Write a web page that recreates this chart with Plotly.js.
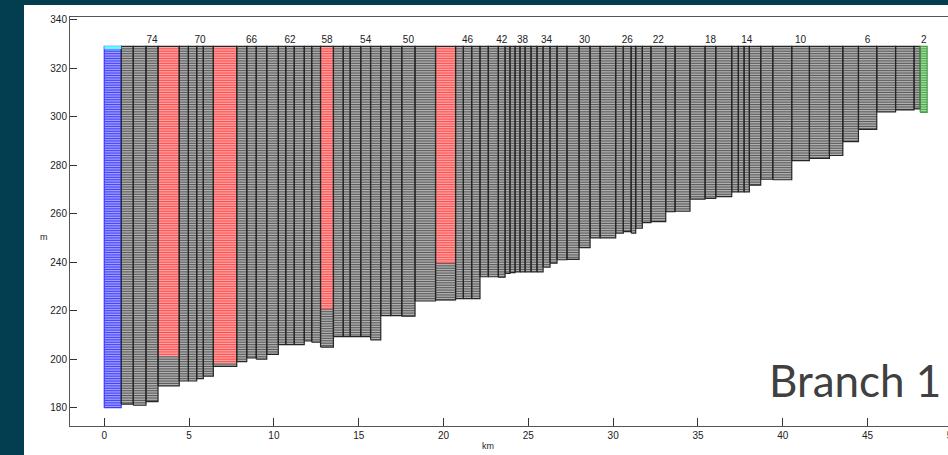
<!DOCTYPE html>
<html><head><meta charset="utf-8">
<script src="https://cdn.plot.ly/plotly-3.0.1.min.js"></script>
<style>
html,body{margin:0;padding:0;background:#033d50;overflow:hidden;width:948px;height:455px;}
#chart{position:absolute;left:24px;top:5px;width:972px;height:450px;}
</style></head><body><div id="chart"></div>
<script>
// Segment numbers, dam (left) to upstream (right)
const segments = [77,76,75,74,73,72,71,70,69,68,67,66,65,64,63,62,61,60,59,58,57,56,55,54,53,52,51,50,49,48,47,46,45,44,43,42,41,40,39,38,37,36,35,34,33,32,31,30,29,28,27,26,25,24,23,22,21,20,19,18,17,16,15,14,13,12,11,10,9,8,7,6,5,4,3,2];
// Segment boundaries, km from the dam
const segEdgesKm = [0,1.00,1.71,2.46,3.17,4.42,4.96,5.45,5.84,6.43,
  7.81,8.40,8.96,9.58,10.26,10.70,11.20,11.79,12.23,12.75,
  13.51,14.09,14.50,15.12,15.70,16.30,16.89,17.54,18.32,19.53,
  20.71,21.17,21.66,22.15,22.64,23.23,23.63,23.92,24.22,24.51,
  24.81,25.16,25.51,25.87,26.28,26.69,27.28,27.99,28.64,29.23,
  30.15,30.60,31.06,31.33,31.72,32.23,33.10,33.65,34.53,35.42,
  36.05,36.99,37.38,37.72,38.03,38.70,39.41,40.53,41.57,42.75,
  43.54,44.46,45.54,46.65,47.74,48.10,48.51];
// Bottom elevation of each segment, m
const bottomElev = [180,181.5,181,182.5,189,191,191,192,193,197,
  199,200.5,200,202,206,206,206,207.5,207,205,
  209.3,209.3,209.3,209.3,208,218,218,217.7,224,224.4,
  225,225,225,234,234,233.8,235.4,235.7,236,236,
  236,236,236,238,239.6,241,241.2,246,250,250,
  252,252.6,252,254,256.3,256.7,260.8,261,266,266.3,
  267,269,269,269,271.8,274.2,274,281.9,282.8,284,
  289.7,294.8,302,302.8,303.2,301.8];
const surfaceElev = 329;
const layerThickness = 1;
const redSegments = [73,68,58,48];
const redLowerElev = [201,198,220.6,239.5];
const blueSegment = 77;
const greenSegment = 2;
const labelSegments = [74,70,66,62,58,54,50,46,42,38,34,30,26,22,18,14,10,6,2];

const groups = {
  grey:  {fill:'#b0b0b0', line:'#5c5c5c', fx:[], fy:[], lx:[], ly:[]},
  red:   {fill:'#ffa4a4', line:'#ff4f4f', fx:[], fy:[], lx:[], ly:[]},
  blue:  {fill:'#9e9eff', line:'#4444ff', fx:[], fy:[], lx:[], ly:[]},
  green: {fill:'#a8d8a8', line:'#4ea84e', fx:[], fy:[], lx:[], ly:[]}
};
function addPart(g, x0, x1, lo, hi, includeTop){
  const G = groups[g];
  G.fx.push(x0,x1,x1,x0,x0,null); G.fy.push(lo,lo,hi,hi,lo,null);
  let k = includeTop ? 0 : 1;
  for(;;k++){
    const e = hi - k*layerThickness;
    if(e <= lo + 0.05) break;
    G.lx.push(x0,x1,null); G.ly.push(e,e,null);
  }
}
const outDark = {x:[],y:[]}, outBlue={x:[],y:[]}, outGreen={x:[],y:[]};
function rect(o,x0,x1,lo,hi){ o.x.push(x0,x1,x1,x0,x0,null); o.y.push(lo,lo,hi,hi,lo,null); }
segments.forEach((s,i)=>{
  const x0=segEdgesKm[i], x1=segEdgesKm[i+1], b=bottomElev[i];
  const r = redSegments.indexOf(s);
  if(s===blueSegment){ addPart('blue',x0,x1,b,surfaceElev,false); rect(outBlue,x0,x1,b,surfaceElev); }
  else if(s===greenSegment){ addPart('green',x0,x1,b,surfaceElev,false); rect(outGreen,x0,x1,b,surfaceElev); }
  else if(r>=0){ addPart('red',x0,x1,redLowerElev[r],surfaceElev,false); addPart('grey',x0,x1,b,redLowerElev[r],true); rect(outDark,x0,x1,b,surfaceElev); }
  else { addPart('grey',x0,x1,b,surfaceElev,false); rect(outDark,x0,x1,b,surfaceElev); }
});
const traces = [];
Object.keys(groups).forEach(k=>{
  const G=groups[k];
  traces.push({type:'scatter',mode:'lines',x:G.fx,y:G.fy,fill:'toself',fillcolor:G.fill,line:{width:0,color:G.fill},hoverinfo:'skip',showlegend:false});
});
Object.keys(groups).forEach(k=>{
  const G=groups[k];
  traces.push({type:'scatter',mode:'lines',x:G.lx,y:G.ly,line:{width:1.1,color:G.line},hoverinfo:'skip',showlegend:false});
});
traces.push({type:'scatter',mode:'lines',x:outBlue.x,y:outBlue.y,line:{width:1.2,color:'#3c3cff'},hoverinfo:'skip',showlegend:false});
traces.push({type:'scatter',mode:'lines',x:outDark.x,y:outDark.y,line:{width:1.2,color:'#262626'},hoverinfo:'skip',showlegend:false});
traces.push({type:'scatter',mode:'lines',x:outGreen.x,y:outGreen.y,line:{width:1.2,color:'#3fa03f'},hoverinfo:'skip',showlegend:false});
// cyan cap on the dam segment
const bi = segments.indexOf(blueSegment);
traces.push({type:'scatter',mode:'lines',x:[segEdgesKm[bi],segEdgesKm[bi+1]],y:[surfaceElev-0.5,surfaceElev-0.5],line:{width:3,color:'#55ffff'},hoverinfo:'skip',showlegend:false});
// segment labels
const lx=[], lt=[];
labelSegments.forEach(s=>{ const i=segments.indexOf(s); lx.push((segEdgesKm[i]+segEdgesKm[i+1])/2); lt.push(String(s)); });
traces.push({type:'scatter',mode:'text',x:lx,y:lx.map(()=>331.6),text:lt,textposition:'middle center',
  textfont:{family:'Liberation Sans, Arial, sans-serif',size:10,color:'#222'},cliponaxis:false,hoverinfo:'skip',showlegend:false});

const layout = {
  width:972, height:450,
  margin:{l:46,r:10,t:12,b:29},
  paper_bgcolor:'#ffffff', plot_bgcolor:'#ffffff',
  font:{family:'Liberation Sans, Arial, sans-serif',size:10,color:'#222'},
  xaxis:{range:[-2.02,51.98],tick0:0,dtick:5,ticks:'inside',ticklen:8,tickcolor:'#333',tickwidth:1,
    showline:true,linecolor:'#555',linewidth:1,mirror:true,showgrid:false,zeroline:false,
    tickfont:{size:10,color:'#222'}},
  yaxis:{range:[172.45,341.11],tick0:180,dtick:20,ticks:'inside',ticklen:7,tickcolor:'#333',tickwidth:1,
    showline:true,linecolor:'#555',linewidth:1,mirror:true,showgrid:false,zeroline:false,
    tickfont:{size:10,color:'#222'}},
  annotations:[
    {text:'km',xref:'x',yref:'paper',x:22.6,y:-0.05,xanchor:'center',yanchor:'middle',showarrow:false,font:{size:9,color:'#222'}},
    {text:'m',xref:'paper',yref:'paper',x:-0.028,y:0.463,xanchor:'center',yanchor:'middle',showarrow:false,font:{size:9,color:'#222'}},
    {text:'Branch 1',xref:'paper',yref:'paper',x:0.857,y:0.1125,xanchor:'center',yanchor:'middle',showarrow:false,font:{family:'Lato, sans-serif',size:44,color:'#404040'}}
  ]
};
Plotly.newPlot('chart',traces,layout,{staticPlot:true,displayModeBar:false});
</script></body></html>
